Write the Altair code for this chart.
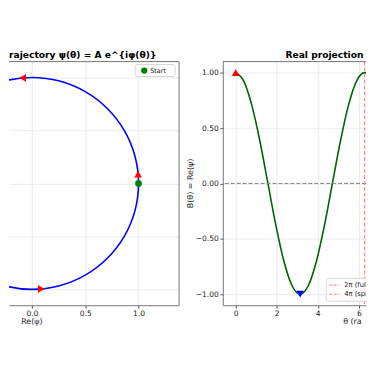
import altair as alt
import pandas as pd

# ---------------- data ----------------
# left panel: trajectory psi = e^{i phi} sampled every 15 degrees (read from the circle)
traj_re = [1.000, 0.966, 0.866, 0.707, 0.500, 0.259, 0.000, -0.259, -0.500, -0.707, -0.866, -0.966,
           -1.000, -0.966, -0.866, -0.707, -0.500, -0.259, 0.000, 0.259, 0.500, 0.707, 0.866, 0.966]
traj_im = [0.000, 0.259, 0.500, 0.707, 0.866, 0.966, 1.000, 0.966, 0.866, 0.707, 0.500, 0.259,
           0.000, -0.259, -0.500, -0.707, -0.866, -0.966, -1.000, -0.966, -0.866, -0.707, -0.500, -0.259]
arrow_re = [0.996, -0.087, -0.996, 0.087]
arrow_im = [0.087, 0.996, -0.087, -0.996]
arrow_shape = ["triangle-up", "triangle-left", "triangle-down", "triangle-right"]
start_re = [1.0]
start_im = [0.0]

# right panel: B(theta) = Re(psi)
theta = [0.000, 0.393, 0.785, 1.178, 1.571, 1.963, 2.356, 2.749, 3.142, 3.534, 3.927, 4.320,
         4.712, 5.105, 5.498, 5.890, 6.283, 6.676, 7.069]
b_vals = [1.000, 0.924, 0.707, 0.383, 0.000, -0.383, -0.707, -0.924, -1.000, -0.924, -0.707, -0.383,
          0.000, 0.383, 0.707, 0.924, 1.000, 0.924, 0.707]
mark_theta = [0.0, 3.142]
mark_b = [1.0, -1.0]
mark_shape = ["triangle-up", "triangle-down"]
mark_color = ["#ff0000", "#0000ff"]
period_theta = [6.283, 12.566]
legend_labels = ["2π (full rotation)", "4π (spinor period)"]

FONT = "DejaVu Sans"
GRID = "#e6e6e6"
FRAME = "#777777"
TICK = "#555555"
LAB = "#222222"
CUT = "\u200b"

W1, W2, H = 171, 144, 245

one = pd.DataFrame({"a": [0]})

# ---------------- left panel ----------------
traj = pd.DataFrame({"re": traj_re, "im": traj_im, "i": list(range(len(traj_re)))})
arrows = pd.DataFrame({"re": arrow_re, "im": arrow_im, "shape": arrow_shape})
start = pd.DataFrame({"re": start_re, "im": start_im})

xl = alt.X("re:Q", scale=alt.Scale(domain=[-0.215, 1.38], nice=False, zero=False),
           axis=alt.Axis(values=[0, 0.5, 1.0], format=".1f", title=None, grid=True,
                         gridColor=GRID, gridWidth=0.8, tickSize=3, tickColor=TICK,
                         domainColor=FRAME, labelFont=FONT, labelFontSize=7.6,
                         labelColor=LAB, labelPadding=1.5, labelFlush=False))
yl = alt.Y("im:Q", scale=alt.Scale(domain=[-1.15, 1.15], nice=False, zero=False),
           axis=alt.Axis(values=[-1, -0.5, 0, 0.5, 1], labels=False, ticks=False,
                         domain=False, title=None, grid=True, gridColor=GRID, gridWidth=0.8))

circle = alt.Chart(traj).mark_line(clip=True, interpolate="cardinal-closed", color="#0000ff",
                                   strokeWidth=1.6).encode(x=xl, y=yl, order="i:Q")
arrow_pts = alt.Chart(arrows).mark_point(clip=True, filled=True, color="#ff0000", size=60,
                                         opacity=1).encode(x=xl, y=yl,
                                                           shape=alt.Shape("shape:N", scale=None))
start_pt = alt.Chart(start).mark_circle(clip=True, color="#008000", size=45, opacity=1).encode(x=xl, y=yl)

frame_top_l = alt.Chart(one).mark_rule(color=FRAME, strokeWidth=1).encode(
    x=alt.value(0), x2=alt.value(W1), y=alt.value(0))
frame_right_l = alt.Chart(one).mark_rule(color=FRAME, strokeWidth=1).encode(
    x=alt.value(W1), y=alt.value(0), y2=alt.value(H))
anchor = alt.Chart(one).mark_rule(color="white", strokeWidth=1).encode(
    x=alt.value(60), x2=alt.value(61), y=alt.value(-52.5))

leg_box_l = alt.Chart(one).mark_rect(fill="white", stroke="#cccccc", strokeWidth=0.8,
                                     cornerRadius=2).encode(
    x=alt.value(127), x2=alt.value(167), y=alt.value(3), y2=alt.value(15))
leg_dot_l = alt.Chart(one).mark_circle(color="#008000", size=40, opacity=1).encode(
    x=alt.value(136), y=alt.value(9))
leg_txt_l = alt.Chart(one).mark_text(align="left", baseline="middle", font=FONT, fontSize=6.5,
                                     color=LAB).encode(
    x=alt.value(142), y=alt.value(9), text=alt.value("Start"))

title_l = alt.Chart(one).mark_text(align="left", baseline="alphabetic", font=FONT, fontSize=9.2,
                                   fontWeight="bold", color="black").encode(
    x=alt.value(0), y=alt.value(-4), text=alt.value("rajectory ψ(θ) = A e^{iφ(θ)}"))
xtitle_l = alt.Chart(one).mark_text(align="center", baseline="middle", font=FONT, fontSize=8,
                                    color=LAB).encode(
    x=alt.value(23), y=alt.value(262), text=alt.value("Re(ψ)"))

left = alt.layer(circle, arrow_pts, start_pt, frame_top_l, frame_right_l, anchor,
                 leg_box_l, leg_dot_l, leg_txt_l, title_l, xtitle_l).properties(width=W1, height=H)

# ---------------- right panel ----------------
curve = pd.DataFrame({"theta": theta, "B": b_vals})
marks = pd.DataFrame({"theta": mark_theta, "B": mark_b, "shape": mark_shape, "col": mark_color})
periods = pd.DataFrame({"theta": period_theta})
legend_df = pd.DataFrame({"lab": legend_labels, "yy": [224.7, 234.0]})

xr = alt.X("theta:Q", scale=alt.Scale(domain=[-0.628, 6.35], nice=False, zero=False),
           axis=alt.Axis(values=[0, 2, 4, 6], format="d", title=None, grid=True,
                         gridColor=GRID, gridWidth=0.8, tickSize=3, tickColor=TICK,
                         domainColor=FRAME, labelFont=FONT, labelFontSize=7.6,
                         labelColor=LAB, labelPadding=1.5, labelFlush=False))
yr = alt.Y("B:Q", scale=alt.Scale(domain=[-1.1, 1.1], nice=False, zero=False),
           axis=alt.Axis(values=[-1, -0.75, -0.5, -0.25, 0, 0.25, 0.5, 0.75, 1], format=".2f",
                         title=None, grid=True, gridColor=GRID, gridWidth=0.8, tickSize=3,
                         tickColor=TICK, domainColor=FRAME, labelFont=FONT, labelFontSize=7.6,
                         labelColor=LAB, labelPadding=1.5, labelFlush=False))

zero_line = alt.Chart(one).mark_rule(color="#808080", strokeWidth=1, strokeDash=[4, 2]).encode(
    y=alt.datum(0, scale=alt.Scale(domain=[-1.1, 1.1], nice=False, zero=False)))
green = alt.Chart(curve).mark_line(clip=True, interpolate="monotone", color="#006400",
                                   strokeWidth=1.6).encode(x=xr, y=yr)
period_rules = alt.Chart(periods).mark_rule(clip=True, color="#ff8080", strokeWidth=1.1,
                                            strokeDash=[4, 2]).encode(x=xr)
mark_pts = alt.Chart(marks).mark_point(clip=True, filled=True, size=60, opacity=1).encode(
    x=xr, y=yr, shape=alt.Shape("shape:N", scale=None), color=alt.Color("col:N", scale=None))

frame_top_r = alt.Chart(one).mark_rule(color=FRAME, strokeWidth=1).encode(
    x=alt.value(0), x2=alt.value(W2), y=alt.value(0))

leg_box_r = alt.Chart(one).mark_rect(clip=True, fill="white", fillOpacity=0.85, stroke="#cccccc",
                                     strokeWidth=0.8, cornerRadius=2).encode(
    x=alt.value(104), x2=alt.value(250), y=alt.value(218), y2=alt.value(241))
leg_lines_r = alt.Chart(legend_df).mark_rule(clip=True, color="#ff8080", strokeWidth=1.1,
                                             strokeDash=[3, 1.5]).encode(
    x=alt.value(107), x2=alt.value(117), y=alt.Y("yy:Q", scale=None))
leg_txt_r = alt.Chart(legend_df).mark_text(clip=True, align="left", baseline="middle", font=FONT,
                                           fontSize=6.8, color=LAB).encode(
    x=alt.value(122), y=alt.Y("yy:Q", scale=None), text="lab:N")

title_r = alt.Chart(one).mark_text(align="left", baseline="alphabetic", font=FONT, fontSize=9.2,
                                   fontWeight="bold", color="black", limit=81, ellipsis=CUT).encode(
    x=alt.value(63), y=alt.value(-4), text=alt.value("Real projection B(θ) = Re(ψ)"))
xtitle_r = alt.Chart(one).mark_text(align="left", baseline="middle", font=FONT, fontSize=8,
                                    color=LAB, limit=23, ellipsis=CUT).encode(
    x=alt.value(121), y=alt.value(262), text=alt.value("θ (radians)"))
ytitle_r = alt.Chart(one).mark_text(align="center", baseline="middle", font=FONT, fontSize=8,
                                    color=LAB, angle=270).encode(
    x=alt.value(-32), y=alt.value(H / 2), text=alt.value("B(θ) = Re(ψ)"))

right = alt.layer(green, zero_line, period_rules, mark_pts, frame_top_r, leg_box_r, leg_lines_r,
                  leg_txt_r, title_r, xtitle_r, ytitle_r).properties(width=W2, height=H)

chart = alt.hconcat(left, right, spacing=44, bounds="flush").properties(
    padding=0).configure_view(stroke=None)

chart.save("out.html", embed_options={"renderer": "svg", "actions": False})
